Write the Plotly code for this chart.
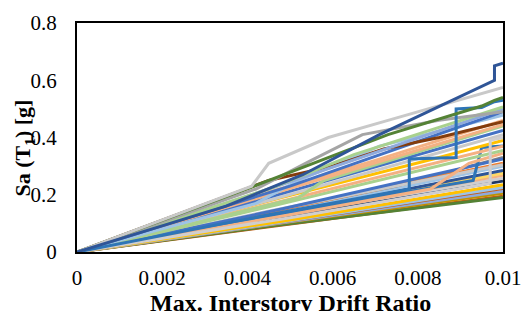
import plotly.graph_objects as go

# ---- data: IDA curves (max interstory drift ratio vs Sa(T1)) ----
drift_curves = [
    [0, 0.0043, 0.01],
    [0, 0.0045, 0.01],
    [0, 0.0050, 0.01],
    [0, 0.0046, 0.01],
    [0, 0.0048, 0.01],
    [0, 0.0044, 0.01],
    [0, 0.0050, 0.01],
    [0, 0.0047, 0.01],
    [0, 0.0046, 0.01],
    [0, 0.0050, 0.01],
    [0, 0.0048, 0.01],
    [0, 0.0043, 0.01],
    [0, 0.0045, 0.01],
    [0, 0.0058, 0.0075, 0.01],
    [0, 0.0046, 0.01],
    [0, 0.0044, 0.01],
    [0, 0.0048, 0.01],
    [0, 0.0050, 0.0093, 0.0095, 0.01],
    [0, 0.0050, 0.0083, 0.0092, 0.01],
    [0, 0.0047, 0.01],
    [0, 0.0048, 0.0085, 0.01],
    [0, 0.0043, 0.01],
    [0, 0.0045, 0.01],
    [0, 0.0046, 0.01],
    [0, 0.0050, 0.0097, 0.0097, 0.01],
    [0, 0.0052, 0.0058, 0.01],
    [0, 0.0046, 0.01],
    [0, 0.0043, 0.0070, 0.01],
    [0, 0.0042, 0.0052, 0.0071, 0.01],
    [0, 0.0050, 0.01],
    [0, 0.0038, 0.0045, 0.0060, 0.0072, 0.0085, 0.01],
    [0, 0.0044, 0.01],
    [0, 0.0045, 0.0065, 0.01],
    [0, 0.0042, 0.0055, 0.0067, 0.0085, 0.01],
    [0, 0.0045, 0.0078, 0.0078, 0.0089, 0.0089, 0.0095, 0.0098, 0.01],
    [0, 0.0038, 0.0073, 0.0095, 0.0098, 0.01],
    [0, 0.0041, 0.0045, 0.0059, 0.0073, 0.01],
    [0, 0.0035, 0.0053, 0.0071, 0.0098, 0.0098, 0.01],
]
sa_curves = [
    [0, 0.084, 0.195],
    [0, 0.090, 0.190],
    [0, 0.105, 0.205],
    [0, 0.098, 0.212],
    [0, 0.104, 0.222],
    [0, 0.095, 0.225],
    [0, 0.112, 0.235],
    [0, 0.118, 0.248],
    [0, 0.125, 0.258],
    [0, 0.135, 0.268],
    [0, 0.130, 0.275],
    [0, 0.120, 0.285],
    [0, 0.130, 0.300],
    [0, 0.180, 0.230, 0.330],
    [0, 0.142, 0.310],
    [0, 0.140, 0.305],
    [0, 0.150, 0.325],
    [0, 0.140, 0.250, 0.365, 0.370],
    [0, 0.130, 0.220, 0.310, 0.345],
    [0, 0.165, 0.355],
    [0, 0.190, 0.330, 0.390],
    [0, 0.160, 0.370],
    [0, 0.180, 0.410],
    [0, 0.195, 0.425],
    [0, 0.120, 0.240, 0.390, 0.400],
    [0, 0.190, 0.250, 0.440],
    [0, 0.205, 0.445],
    [0, 0.200, 0.320, 0.460],
    [0, 0.170, 0.250, 0.370, 0.478],
    [0, 0.230, 0.490],
    [0, 0.210, 0.250, 0.300, 0.360, 0.400, 0.455],
    [0, 0.215, 0.500],
    [0, 0.220, 0.340, 0.507],
    [0, 0.220, 0.320, 0.410, 0.460, 0.490],
    [0, 0.130, 0.220, 0.325, 0.330, 0.500, 0.505, 0.525, 0.530],
    [0, 0.210, 0.410, 0.510, 0.530, 0.540],
    [0, 0.230, 0.310, 0.400, 0.460, 0.575],
    [0, 0.160, 0.270, 0.410, 0.600, 0.650, 0.660],
]
line_colors = [
    "#C55A11", "#548235", "#BF9000", "#8FAADC", "#C55A11", "#9DC3E6",
    "#FFC000", "#1F3864", "#D0CECE", "#F4B183", "#FFD966", "#2F5597",
    "#9DC3E6", "#7F7F7F", "#ED7D31", "#C9C9C9", "#4472C4", "#2E75B6",
    "#F4B183", "#A9D18E", "#FFC000", "#F4B183", "#C9C9C9", "#4472C4",
    "#D0CECE", "#A9D18E", "#F4B183", "#F4B183", "#9DC3E6", "#4472C4",
    "#843C0C", "#8FAADC", "#A9D18E", "#A5A5A5", "#2E75B6", "#548235",
    "#C9C9C9", "#2F5597",
]

x_ticks = [0, 0.002, 0.004, 0.006, 0.008, 0.01]
x_tick_labels = ["0", "0.002", "0.004", "0.006", "0.008", "0.01"]
y_ticks = [0, 0.2, 0.4, 0.6, 0.8]
y_tick_labels = ["0", "0.2", "0.4", "0.6", "0.8"]
x_title = "Max. Interstory Drift Ratio"
y_title = "Sa (T<sub>1</sub>) [g]"

FONT = "Liberation Serif, Times New Roman, serif"

fig = go.Figure()
for d, s, c in zip(drift_curves, sa_curves, line_colors):
    fig.add_trace(go.Scatter(x=d, y=s, mode="lines",
                             line=dict(color=c, width=3),
                             showlegend=False, hoverinfo="skip"))

fig.update_layout(
    width=521, height=311,
    margin=dict(l=77, r=18, t=23, b=59, autoexpand=False),
    paper_bgcolor="white", plot_bgcolor="white",
    font=dict(family=FONT, size=21, color="black"),
    showlegend=False,
    annotations=[
        dict(text="<b>" + x_title + "</b>", xref="paper", yref="paper",
             x=0.5, y=-0.157, xanchor="center", yanchor="top",
             showarrow=False, font=dict(family=FONT, size=24, color="black")),
        dict(text="<b>" + y_title + "</b>", xref="paper", yref="paper",
             x=-0.125, y=0.455, xanchor="center", yanchor="middle",
             textangle=-90,
             showarrow=False, font=dict(family=FONT, size=22, color="black")),
    ],
)
fig.update_xaxes(range=[0, 0.01], tickvals=x_ticks, ticktext=x_tick_labels,
                 showgrid=False, zeroline=False, showline=True, mirror=True,
                 linecolor="black", linewidth=2, ticks="", automargin=False,
                 ticklabelstandoff=6, ticklabeloverflow="allow")
fig.update_yaxes(range=[0, 0.8], tickvals=y_ticks, ticktext=y_tick_labels,
                 showgrid=False, zeroline=False, showline=True, mirror=True,
                 linecolor="black", linewidth=2, ticks="", automargin=False,
                 ticklabelstandoff=14, ticklabeloverflow="allow")

# remove the browser's default 8px page margin so the figure sits at (0, 0)
fig.write_html("out.html",
               config={"displayModeBar": False},
               post_script="document.body.style.margin='0';"
                           "document.body.style.overflow='hidden';")
